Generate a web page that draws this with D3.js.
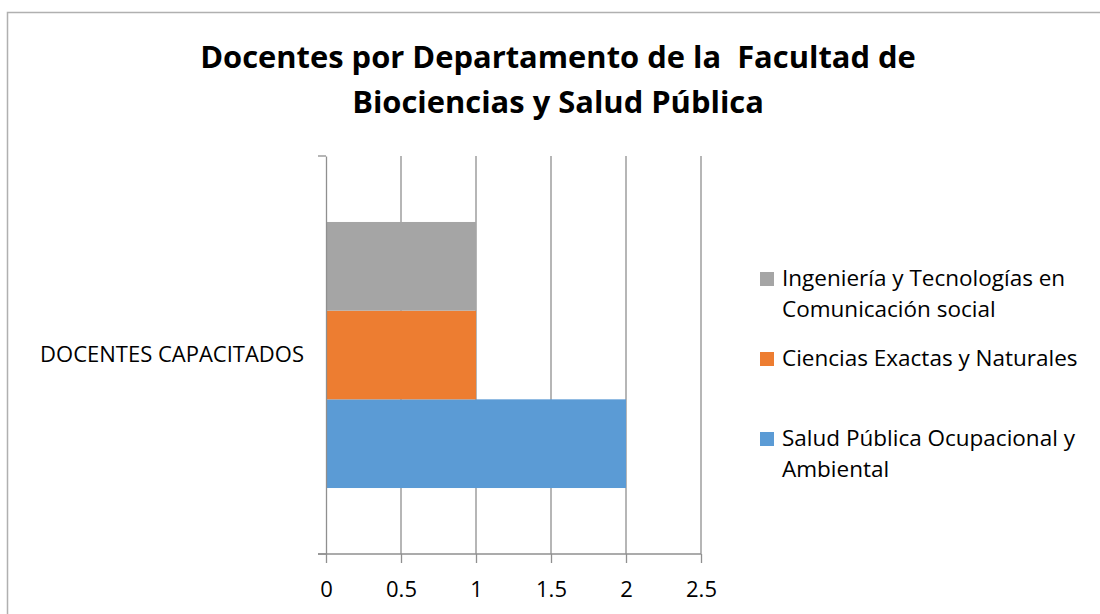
<!DOCTYPE html>
<html>
<head>
<meta charset="utf-8">
<script src="https://cdn.jsdelivr.net/npm/d3@7"></script>
<style>
  body { margin: 0; background: #fff; }
  svg text { font-family: "Open Sans", sans-serif; fill: #000; }
</style>
</head>
<body>
<div id="chart"></div>
<script>
// data
var titleLines = ["Docentes por Departamento de la  Facultad de", "Biociencias y Salud P\u00fablica"];
var categories = ["DOCENTES CAPACITADOS"];
var seriesNames = ["Salud P\u00fablica Ocupacional y Ambiental", "Ciencias Exactas y Naturales", "Ingenier\u00eda y Tecnolog\u00edas en Comunicaci\u00f3n social"];
var seriesValues = [2, 1, 1];
var seriesColors = ["#5b9bd5", "#ed7d31", "#a5a5a5"];
var legendLines = [["Salud P\u00fablica Ocupacional y", "Ambiental"], ["Ciencias Exactas y Naturales"], ["Ingenier\u00eda y Tecnolog\u00edas en", "Comunicaci\u00f3n social"]];
var xTicks = [0, 0.5, 1, 1.5, 2, 2.5];

var W = 1100, H = 614;
var plot = {left: 326, right: 701, top: 156, bottom: 554};
var axisColor = "#8f8f8f";

var svg = d3.select("#chart").append("svg")
  .attr("width", W)
  .attr("height", H);

// chart border
svg.append("rect")
  .attr("x", 7.5).attr("y", 12.5)
  .attr("width", 1110).attr("height", 700)
  .attr("fill", "#fff")
  .attr("stroke", "#b0b0b0")
  .attr("stroke-width", 1.5);

// title, sized so the first line spans like the original
var title = svg.append("g").selectAll("text")
  .data(titleLines)
  .enter().append("text")
  .attr("x", 558)
  .attr("y", function(d, i) { return 68 + i * 45; })
  .attr("text-anchor", "middle")
  .attr("font-size", 28)
  .attr("font-weight", "bold")
  .style("white-space", "pre")
  .text(function(d) { return d; });
var len = title.node().getComputedTextLength();
title.attr("font-size", Math.min(32, 28 * 716 / len));

var x = d3.scaleLinear().domain([0, 2.5]).range([plot.left, plot.right]);

var y0 = d3.scaleBand()
  .domain(categories)
  .range([plot.top, plot.bottom])
  .paddingInner(0)
  .paddingOuter(0.248);

var y1 = d3.scaleBand()
  .domain(seriesNames.slice().reverse())
  .range([0, y0.bandwidth()]);

// gridlines
svg.append("g").selectAll("line")
  .data(xTicks.slice(1))
  .enter().append("line")
  .attr("x1", function(d) { return x(d); })
  .attr("x2", function(d) { return x(d); })
  .attr("y1", plot.top)
  .attr("y2", plot.bottom)
  .attr("stroke", axisColor)
  .attr("stroke-width", 1.3);

// bars
svg.append("g").selectAll("g")
  .data(categories)
  .enter().append("g")
  .attr("transform", function(d) { return "translate(0," + y0(d) + ")"; })
  .selectAll("rect")
  .data(seriesNames.map(function(s, i) { return {name: s, value: seriesValues[i], color: seriesColors[i]}; }))
  .enter().append("rect")
  .attr("x", x(0))
  .attr("y", function(d) { return y1(d.name); })
  .attr("width", function(d) { return x(d.value) - x(0); })
  .attr("height", y1.bandwidth())
  .attr("fill", function(d) { return d.color; });

// x axis
var xAxis = svg.append("g")
  .attr("transform", "translate(0," + plot.bottom + ")")
  .call(d3.axisBottom(x).tickValues(xTicks).tickSize(9).tickSizeOuter(0).tickFormat(function(d) { return d; }));
xAxis.select(".domain").remove();
xAxis.selectAll("line").attr("stroke", axisColor).attr("stroke-width", 1.3);
xAxis.selectAll("text")
  .attr("y", 43).attr("dy", 0)
  .attr("font-size", 22)
  .attr("font-family", null);
xAxis.append("line")
  .attr("x1", plot.left - 8).attr("x2", plot.right)
  .attr("stroke", axisColor).attr("stroke-width", 1.3);

// y axis
var yAxis = svg.append("g")
  .attr("transform", "translate(" + plot.left + ",0)")
  .call(d3.axisLeft(y0).tickSize(0).tickPadding(22));
yAxis.select(".domain").attr("stroke", axisColor).attr("stroke-width", 1.3);
yAxis.selectAll("text").attr("font-size", 22).attr("font-family", null);
yAxis.selectAll(".edge")
  .data(y0.range())
  .enter().append("line")
  .attr("class", "edge")
  .attr("x1", -8).attr("x2", 0)
  .attr("y1", function(d) { return d; })
  .attr("y2", function(d) { return d; })
  .attr("stroke", axisColor).attr("stroke-width", 1.3);

// legend (top to bottom: last series first)
var legendY = [446, 366, 286];
var legend = svg.append("g").selectAll("g")
  .data(seriesNames.map(function(s, i) { return {lines: legendLines[i], color: seriesColors[i], y: legendY[i]}; }))
  .enter().append("g")
  .attr("transform", function(d) { return "translate(760," + d.y + ")"; });

legend.append("rect")
  .attr("y", -14)
  .attr("width", 14).attr("height", 14)
  .attr("fill", function(d) { return d.color; });

legend.selectAll("text")
  .data(function(d) { return d.lines; })
  .enter().append("text")
  .attr("x", 22)
  .attr("y", function(d, i) { return i * 31; })
  .attr("font-size", 22.5)
  .text(function(d) { return d; });
</script>
</body>
</html>
